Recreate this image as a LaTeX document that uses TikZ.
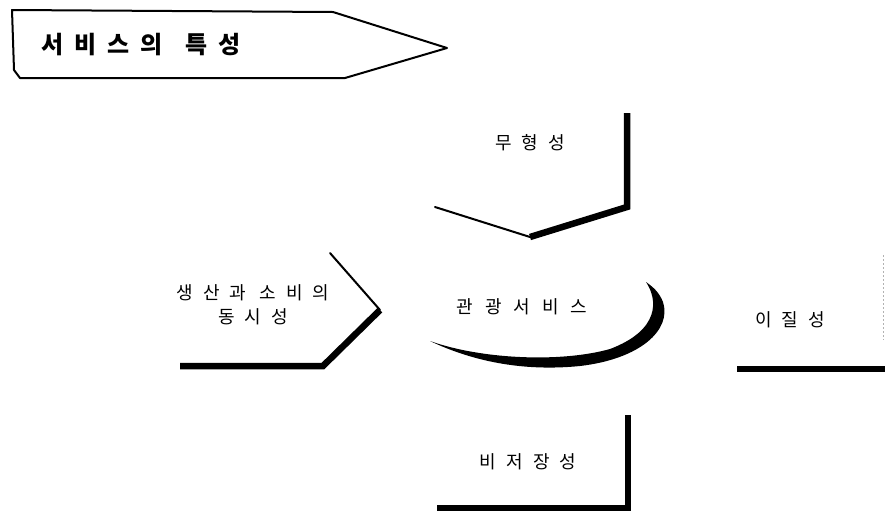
\documentclass[tikz,border=0pt]{standalone}
\usepackage{fontspec}
\newfontfamily\kr{Noto Sans CJK KR}
\newcommand\gp{\hspace{10pt}}
\newcommand\tgp{\hspace{11pt}}
\tikzset{
  lbl/.style={font=\kr\fontsize{18pt}{24pt}\selectfont, inner sep=0pt, align=center},
  ttl/.style={font=\kr\bfseries\fontsize{24pt}{28pt}\selectfont, inner sep=0pt, anchor=west},
  thin/.style={line width=2pt, line cap=round},
  thick/.style={line width=6.5pt, line join=miter},
}
\begin{document}
\begin{tikzpicture}[x=1pt,y=-1pt]
\useasboundingbox (0,0) rectangle (885,512);
% header
\draw[line width=2pt, line join=round] (12,10) -- (333,12) -- (447,48) -- (345,78) -- (20,78) -- (14,70) -- cycle;
\node[ttl] (title) at (41,45) {서\tgp 비\tgp 스\tgp 의\hspace{23pt}특\tgp 성};
% top: intangibility
\node[lbl] (top) at (530,143) {무\gp 형\gp 성};
\draw[thin] (435,207) -- (530,237);
\draw[thick] (530,237) -- (627,207) -- (627,113);
% left: simultaneity
\node[lbl] (left) at (253,305) {생\gp 산\gp 과\hspace{13pt}소\gp 비\gp 의\\동\gp 시\gp 성};
\draw[thin] (330,253) -- (380,310);
\draw[thick] (380,310) -- (323,366) -- (180,366);
% center
\node[lbl] (center) at (522,307) {관\hspace{12pt}광\hspace{12pt}서\hspace{12pt}비\hspace{12pt}스};
\fill (430,341) .. controls (470,360) and (520,372) .. (580,366)
  .. controls (640,359) and (672,330) .. (663,302)
  .. controls (659,292) and (653,287) .. (646,282)
  .. controls (658,300) and (660,330) .. (610,349)
  .. controls (560,363) and (480,359) .. (430,341) -- cycle;
% right: heterogeneity
\node[lbl] (right) at (790,320) {이\gp 질\gp 성};
\draw[thick] (737,369) -- (885,369);
\draw[gray!60, line width=0.8pt, dash pattern=on 2pt off 2pt] (883,255) -- (883,340);
% bottom: perishability
\node[lbl] (bottom) at (528,462) {비\gp 저\gp 장\gp 성};
\draw[thick] (437,508) -- (628,508) -- (628,415);
\end{tikzpicture}
\end{document}
